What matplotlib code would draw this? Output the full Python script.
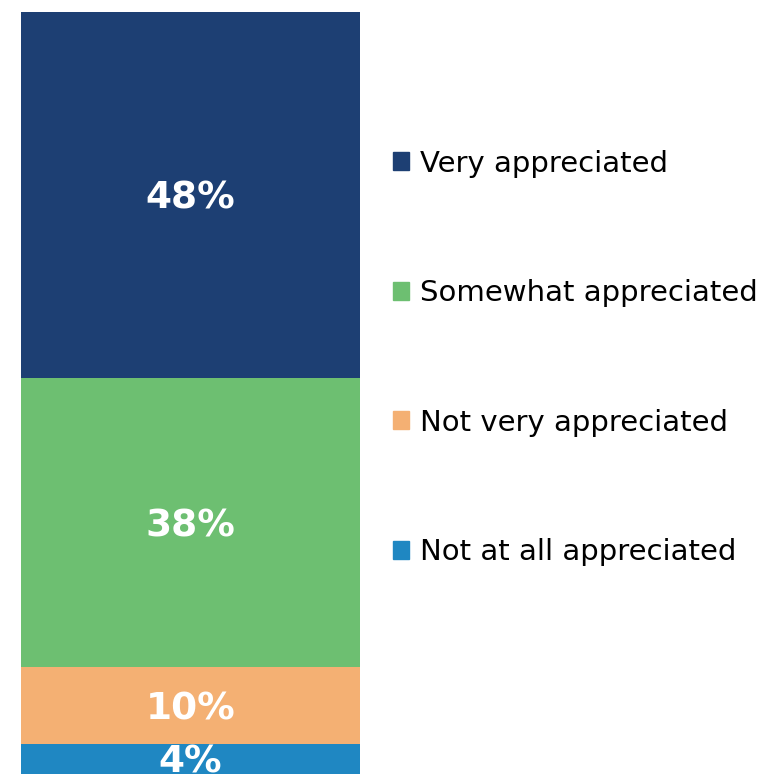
import matplotlib.pyplot as plt
from matplotlib.patches import Patch

categories = ["Very appreciated", "Somewhat appreciated", "Not very appreciated", "Not at all appreciated"]
values = [48, 38, 10, 4]
colors = ["#1D3F73", "#6DBF71", "#F4B073", "#1F87C2"]

fig = plt.figure(figsize=(7.66, 7.74), dpi=100)
ax = fig.add_axes([21 / 766, 0, 339 / 766, 762 / 774])

# stack from the bottom: smallest share first
bottom = 0
for cat, val, col in reversed(list(zip(categories, values, colors))):
    ax.bar(0, val, bottom=bottom, width=1, color=col, label=cat)
    ax.text(0, bottom + val / 2, f"{val}%", ha="center", va="center_baseline",
            color="white", fontsize=27, fontweight="bold")
    bottom += val

ax.set_xlim(-0.5, 0.5)
ax.set_ylim(0, 100)
ax.axis("off")

handles = [Patch(color=c) for c in colors]
fig.legend(handles, categories, loc="upper left", bbox_to_anchor=(378 / 766, 1 - 135 / 774),
           frameon=False, fontsize=21, handlelength=0.55, handleheight=0.55,
           handletextpad=0.4, labelspacing=3.48, borderpad=0)

fig.savefig("out.png", dpi=100)
